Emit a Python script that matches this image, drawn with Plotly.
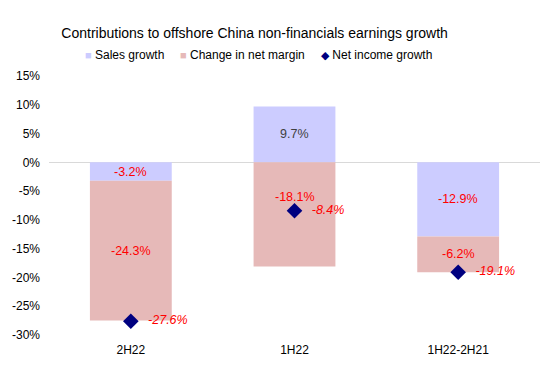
import plotly.graph_objects as go

categories = ["2H22", "1H22", "1H22-2H21"]
sales_growth = [-3.2, 9.7, -12.9]
net_margin_change = [-24.3, -18.1, -6.2]
net_income_growth = [-27.6, -8.4, -19.1]
y_ticks = [15, 10, 5, 0, -5, -10, -15, -20, -25, -30]
series_names = ["Sales growth", "Change in net margin", "Net income growth"]
series_colors = ["#CCCCFF", "#E6B9B8", "#000080"]

font_family = "Liberation Sans, Arial, sans-serif"
label_size = 12.5

fig = go.Figure()
fig.add_trace(go.Bar(
    name=series_names[0], x=categories, y=sales_growth,
    marker=dict(color=series_colors[0], line=dict(width=0)),
))
fig.add_trace(go.Bar(
    name=series_names[1], x=categories, y=net_margin_change,
    marker=dict(color=series_colors[1], line=dict(width=0)),
))
fig.add_trace(go.Scatter(
    name=series_names[2], x=categories, y=net_income_growth,
    mode="markers+text",
    marker=dict(symbol="diamond", color=series_colors[2], size=12),
    text=[f"<i>\u2002\u2009{v:.1f}%</i>" for v in net_income_growth],
    textposition="middle right",
    textfont=dict(color="#FF0000", size=label_size, family=font_family),
))

# bar segment labels at computed midpoints (relative stacking)
for i, c in enumerate(categories):
    s = sales_growth[i]
    m = net_margin_change[i]
    s_mid = s / 2
    m_mid = s + m / 2 if s < 0 else m / 2
    fig.add_annotation(x=c, y=s_mid, text=f"{s:.1f}%", showarrow=False,
                       font=dict(color="#FF0000" if s < 0 else "#404040", size=label_size, family=font_family))
    shift = 17 if s > 0 else 0
    fig.add_annotation(x=c, y=m_mid, text=f"{m:.1f}%", showarrow=False, yshift=shift,
                       font=dict(color="#FF0000", size=label_size, family=font_family))

# custom legend row
legend_x = [0.069, 0.263, 0.550]
legend_syms = ["■", "■", "◆"]
for name, col, sym, lx in zip(series_names, series_colors, legend_syms, legend_x):
    fig.add_annotation(
        xref="paper", yref="paper", x=lx, y=1.081, xanchor="left", yanchor="middle",
        text=f"<span style='color:{col};font-size:11px'>{sym}</span> {name}",
        showarrow=False, font=dict(size=12, color="#000000", family=font_family),
    )

fig.update_layout(
    width=542, height=363,
    barmode="relative",
    bargap=0.5,
    plot_bgcolor="white", paper_bgcolor="white",
    font=dict(family=font_family, color="#000000", size=12),
    title=dict(text="Contributions to offshore China non-financials earnings growth",
               x=0.455, xanchor="center", y=0.931, yanchor="middle",
               font=dict(size=14, color="#000000")),
    showlegend=False,
    margin=dict(l=41, r=10, t=68, b=36, autoexpand=False),
)
fig.update_yaxes(
    range=[-30, 15], tickvals=y_ticks, ticktext=[f"{v}%" for v in y_ticks],
    showgrid=False, zeroline=True, zerolinecolor="#D9D9D9", zerolinewidth=1,
    ticklabelstandoff=8, showline=False, automargin=False,
)
fig.update_xaxes(showgrid=False, showline=False, ticklabelstandoff=6, automargin=False)

fig.write_html("out.html")
